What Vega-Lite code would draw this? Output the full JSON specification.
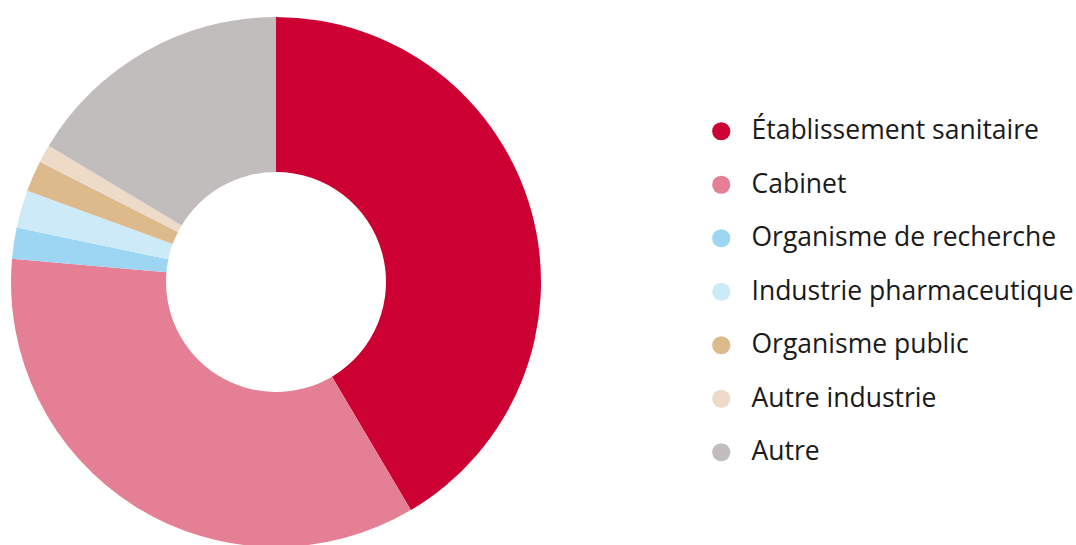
{
  "$schema": "https://vega.github.io/schema/vega-lite/v6.json",
  "width": 552,
  "height": 564,
  "padding": {"left": 0, "top": 0, "right": 524, "bottom": 0},
  "autosize": {"type": "none"},
  "background": "white",
  "config": {"view": {"stroke": null}},
  "data": {
    "values": [
      {"cat": "Établissement sanitaire", "value": 41.5, "ord": 1},
      {"cat": "Cabinet", "value": 34.9, "ord": 2},
      {"cat": "Organisme de recherche", "value": 1.9, "ord": 3},
      {"cat": "Industrie pharmaceutique", "value": 2.3, "ord": 4},
      {"cat": "Organisme public", "value": 1.9, "ord": 5},
      {"cat": "Autre industrie", "value": 1.1, "ord": 6},
      {"cat": "Autre", "value": 16.4, "ord": 7}
    ]
  },
  "mark": {"type": "arc", "radius": 265, "radius2": 110},
  "encoding": {
    "theta": {"field": "value", "type": "quantitative", "stack": true},
    "order": {"field": "ord", "type": "quantitative"},
    "color": {
      "field": "cat",
      "type": "nominal",
      "scale": {
        "domain": ["Établissement sanitaire", "Cabinet", "Organisme de recherche", "Industrie pharmaceutique", "Organisme public", "Autre industrie", "Autre"],
        "range": ["#CC0033", "#E57F96", "#9CD6F2", "#CDEAF9", "#DDBA8C", "#EDDBC8", "#C1BDBD"]
      },
      "legend": {
        "title": null,
        "orient": "none",
        "legendX": 708,
        "legendY": 118,
        "symbolType": "circle",
        "symbolSize": 330,
        "symbolStrokeWidth": 0,
        "labelFont": "Open Sans",
        "labelFontSize": 26.5,
        "labelColor": "#1a1a1a",
        "labelOffset": 17,
        "rowPadding": 26.5,
        "labelLimit": 400
      }
    }
  }
}
